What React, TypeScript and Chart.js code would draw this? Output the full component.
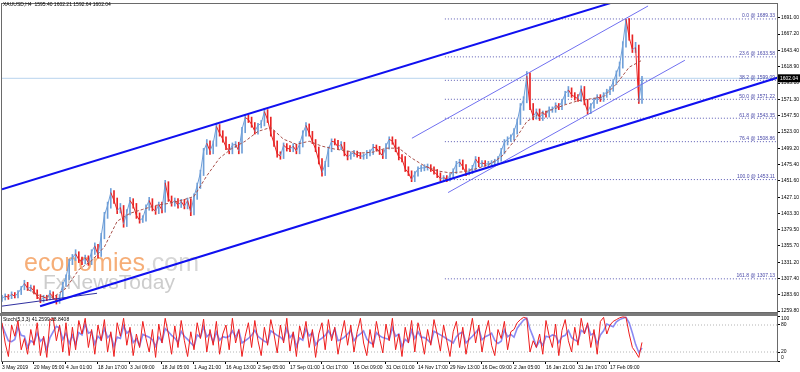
import React, { useEffect, useRef } from 'react';
import { Chart, registerables } from 'chart.js';

Chart.register(...registerables);

const FONT = '"Liberation Sans", Arial, sans-serif';

const TITLE = 'XAUUSD,H4  1595.40 1602.21 1592.64 1602.04';
const STOCH_TITLE = 'Stoch(5,3,3) 41.2599 28.8408';

// x: one sample per index, a date label every 10 samples
const DATE_LABELS = ['3 May 2019', '20 May 05:00', '4 Jun 01:00', '18 Jun 17:00', '3 Jul 09:00', '18 Jul 05:00', '1 Aug 21:00', '16 Aug 13:00', '2 Sep 05:00', '17 Sep 01:00', '1 Oct 17:00', '16 Oct 09:00', '31 Oct 01:00', '14 Nov 17:00', '29 Nov 13:00', '16 Dec 09:00', '2 Jan 05:00', '16 Jan 21:00', '31 Jan 17:00', '17 Feb 09:00'];
const SAMPLES_PER_LABEL = 10;
const X_MAX = 242.19;

const PRICE_TICKS = [1691.0, 1667.2, 1643.4, 1618.9, 1595.1, 1571.3, 1547.5, 1523.0, 1499.2, 1475.4, 1451.6, 1427.1, 1403.3, 1379.5, 1355.7, 1331.2, 1307.4, 1283.6, 1259.8];
const PRICE_MIN = 1258.35;
const PRICE_MAX = 1711.33;

const CLOSES = [
  1278.6, 1281.5, 1280.1, 1284.4, 1281.5, 1285.9, 1293.2, 1300.4, 1293.2, 1294.6,
  1288.8, 1281.5, 1275.7, 1280.1, 1278.6, 1285.9, 1280.1, 1274.3, 1280.1, 1299.0,
  1309.1, 1332.4, 1338.2, 1344.0, 1335.3, 1332.4, 1338.2, 1330.9, 1346.9, 1355.6,
  1342.5, 1370.1, 1400.6, 1415.1, 1434.0, 1422.4, 1407.9, 1412.2, 1387.5, 1405.0,
  1422.4, 1415.1, 1400.6, 1393.3, 1396.2, 1412.2, 1422.4, 1410.8, 1406.4, 1416.6,
  1407.9, 1448.5, 1425.3, 1418.0, 1422.4, 1415.1, 1420.9, 1413.7, 1422.4, 1405.0,
  1428.2, 1444.2, 1463.0, 1495.0, 1506.6, 1495.0, 1506.6, 1531.3, 1521.1, 1512.4,
  1500.8, 1495.0, 1503.7, 1505.1, 1495.0, 1526.9, 1544.3, 1541.4, 1534.2, 1524.0,
  1532.7, 1535.6, 1553.1, 1541.4, 1521.1, 1506.6, 1490.6, 1487.7, 1503.7, 1499.3,
  1497.9, 1502.2, 1495.0, 1505.1, 1521.1, 1532.7, 1521.1, 1509.5, 1497.9, 1480.5,
  1463.0, 1476.1, 1497.9, 1509.5, 1508.1, 1500.8, 1505.1, 1492.1, 1486.3, 1490.6,
  1492.1, 1489.2, 1487.7, 1487.7, 1492.1, 1493.5, 1500.8, 1499.3, 1493.5, 1487.7,
  1502.2, 1512.4, 1509.5, 1497.9, 1486.3, 1483.4, 1468.8, 1463.0, 1453.1, 1461.6,
  1468.8, 1470.3, 1470.3, 1471.8, 1468.8, 1464.5, 1460.1, 1454.3, 1455.8, 1454.3,
  1458.7, 1465.9, 1476.1, 1479.0, 1471.8, 1463.0, 1465.9, 1470.3, 1483.4, 1476.1,
  1477.6, 1476.1, 1476.1, 1477.6, 1479.0, 1483.4, 1495.0, 1508.1, 1512.4, 1515.3,
  1524.0, 1538.5, 1560.3, 1570.5, 1605.3, 1560.3, 1545.8, 1553.1, 1544.3, 1550.2,
  1548.7, 1556.0, 1556.0, 1561.8, 1560.3, 1567.6, 1579.2, 1585.0, 1577.7, 1574.8,
  1571.9, 1586.5, 1567.6, 1553.1, 1561.8, 1569.0, 1574.8, 1571.9, 1577.7, 1582.1,
  1586.5, 1596.6, 1609.7, 1621.3, 1651.8, 1689.3, 1662.0, 1644.5, 1647.4, 1567.6,
  1602.04,
];
const HIGHS = [
  1283, 1285, 1284, 1288, 1287, 1290, 1296, 1305, 1302, 1298,
  1297, 1291, 1284, 1283, 1283, 1290, 1288, 1283, 1284, 1302,
  1313, 1336, 1343, 1350, 1347, 1339, 1342, 1341, 1350, 1360,
  1358, 1374, 1405, 1420, 1440, 1437, 1426, 1418, 1415, 1409,
  1427, 1425, 1418, 1404, 1400, 1416, 1427, 1425, 1414, 1420,
  1420, 1452, 1450, 1429, 1426, 1425, 1424, 1424, 1426, 1425,
  1432, 1448, 1467, 1499, 1512, 1510, 1510, 1536, 1534, 1525,
  1516, 1505, 1507, 1509, 1508, 1530, 1549, 1548, 1545, 1537,
  1536, 1540, 1558, 1556, 1545, 1525, 1510, 1494, 1507, 1506,
  1503, 1506, 1505, 1509, 1525, 1537, 1535, 1524, 1512, 1501,
  1484, 1480, 1501, 1513, 1513, 1511, 1509, 1508, 1495, 1494,
  1496, 1495, 1493, 1491, 1496, 1497, 1505, 1504, 1502, 1497,
  1506, 1516, 1516, 1512, 1501, 1490, 1487, 1472, 1466, 1465,
  1472, 1474, 1475, 1476, 1475, 1472, 1468, 1463, 1459, 1459,
  1462, 1469, 1480, 1483, 1482, 1475, 1469, 1474, 1487, 1486,
  1481, 1481, 1480, 1481, 1483, 1487, 1499, 1512, 1516, 1519,
  1528, 1542, 1565, 1575, 1612, 1610, 1565, 1557, 1557, 1554,
  1554, 1560, 1560, 1566, 1565, 1571, 1583, 1590, 1588, 1581,
  1578, 1591, 1590, 1571, 1565, 1573, 1578, 1578, 1581, 1586,
  1590, 1600, 1613, 1626, 1656, 1689.3, 1690, 1666, 1655, 1651,
  1605,
];
const LOWS = [
  1274, 1276, 1277, 1278, 1279, 1279, 1284, 1291, 1290, 1289,
  1285, 1278, 1272, 1273, 1275, 1276, 1277, 1270, 1271, 1277,
  1296, 1306, 1328, 1334, 1331, 1328, 1329, 1327, 1328, 1343,
  1338, 1340, 1366, 1396, 1411, 1418, 1403, 1404, 1383, 1384,
  1401, 1411, 1396, 1389, 1390, 1392, 1408, 1407, 1402, 1403,
  1404, 1405, 1421, 1414, 1414, 1411, 1412, 1410, 1410, 1400,
  1401, 1424, 1440, 1459, 1490, 1490, 1491, 1502, 1517, 1508,
  1497, 1491, 1491, 1500, 1491, 1492, 1522, 1537, 1530, 1520,
  1520, 1529, 1532, 1537, 1517, 1502, 1486, 1483, 1484, 1495,
  1494, 1494, 1491, 1491, 1501, 1517, 1517, 1506, 1494, 1476,
  1458, 1459, 1472, 1494, 1504, 1497, 1497, 1488, 1482, 1483,
  1487, 1486, 1484, 1483, 1484, 1488, 1490, 1495, 1490, 1484,
  1484, 1498, 1505, 1494, 1482, 1479, 1465, 1459, 1450, 1450,
  1458, 1465, 1466, 1467, 1465, 1461, 1456, 1451, 1451, 1450,
  1451, 1455, 1462, 1472, 1468, 1459, 1460, 1462, 1467, 1472,
  1472, 1473, 1472, 1472, 1474, 1475, 1480, 1491, 1504, 1509,
  1511, 1520, 1534, 1555, 1566, 1556, 1541, 1542, 1540, 1540,
  1545, 1545, 1552, 1552, 1556, 1556, 1564, 1575, 1574, 1570,
  1568, 1568, 1563, 1549, 1550, 1558, 1565, 1568, 1568, 1574,
  1578, 1583, 1593, 1605, 1617, 1648, 1658, 1640, 1640, 1565,
  1565,
];

const MA_START = 8;
const MA_STEP = 4;
const MA_VALUES = [
  1291.7, 1281.5, 1280.1, 1293.2, 1320.7, 1333.8, 1354.1, 1391.9, 1403.5, 1409.3,
  1415.1, 1418.0, 1422.4, 1428.2, 1458.7, 1484.8, 1499.3, 1509.5, 1524.0, 1529.8,
  1512.4, 1505.1, 1509.5, 1502.2, 1497.9, 1495.0, 1492.1, 1493.5, 1499.3, 1499.3,
  1484.8, 1473.2, 1465.9, 1463.0, 1464.5, 1468.8, 1474.7, 1486.3, 1509.5, 1538.5,
  1550.2, 1556.0, 1563.2, 1569.0, 1571.9, 1574.8, 1593.7, 1618.4, 1628.6,
];

const FIB_LEVELS = [0.0, 23.6, 38.2, 50.0, 61.8, 76.4, 100.0, 161.8];
const FIB_PRICES = [1689.33, 1633.58, 1599.09, 1571.22, 1543.35, 1508.86, 1453.11, 1307.13];
const FIB_START = 138.4;
const BID = 1602.04;

const UPPER_CHANNEL_X = [0, 200];
const UPPER_CHANNEL_Y = [1438.8, 1726.9];
const LOWER_CHANNEL_X = [11.9, 245];
const LOWER_CHANNEL_Y = [1266.7, 1606.8];
const BASE_LINE_X = [0, 29.7];
const BASE_LINE_Y = [1267.0, 1285.9];
const THIN_UPPER_X = [128.1, 201.9];
const THIN_UPPER_Y = [1513.9, 1708.4];
const THIN_LOWER_X = [139.4, 213.4];
const THIN_LOWER_Y = [1434.0, 1628.6];

const STOCH_MAIN = [
  85, 40, 10, 80, 55, 90, 25, 50, 15, 70,
  35, 85, 12, 55, 8, 92, 95, 45, 80, 20,
  85, 12, 75, 25, 90, 60, 95, 30, 70, 15,
  80, 45, 92, 20, 65, 10, 85, 55, 95, 35,
  75, 12, 60, 30, 88, 50, 20, 70, 8, 82,
  40, 95, 60, 15, 78, 30, 90, 45, 10, 65,
  25, 85, 50, 93, 20, 70, 35, 88, 15, 60,
  80, 25, 95, 40, 70, 10, 55, 85, 30, 90,
  45, 12, 75, 35, 92, 60, 18, 80, 40, 95,
  22, 65, 10, 78, 50, 88, 30, 70, 8, 60,
  85, 25, 92, 45, 75, 15, 55, 90, 35, 80,
  20, 65, 95, 40, 12, 70, 30, 88, 50, 18,
  82, 45, 95, 25, 60, 10, 75, 40, 90, 20,
  85, 55, 15, 70, 35, 92, 60, 22, 80, 45,
  10, 65, 88, 30, 75, 15, 55, 95, 40, 80,
  20, 62, 90, 35, 12, 70, 50, 88, 25, 65,
  70, 85, 92, 97, 95, 20, 45, 30, 60, 15,
  90, 55, 30, 82, 12, 68, 92, 45, 20, 75,
  35, 95, 60, 85, 30, 70, 15, 88, 97, 60,
  80, 88, 92, 96, 98, 97, 60, 30, 20, 8,
  41.26,
];
const STOCH_SIGNAL = [
  80, 62, 45, 43, 48, 75, 57, 55, 30, 45,
  40, 63, 44, 51, 25, 52, 65, 77, 73, 48,
  62, 39, 57, 37, 63, 58, 82, 62, 65, 38,
  55, 47, 72, 52, 59, 32, 53, 50, 78, 62,
  68, 41, 49, 34, 59, 56, 53, 47, 33, 53,
  43, 72, 65, 57, 51, 41, 66, 55, 48, 40,
  33, 58, 53, 76, 54, 61, 42, 64, 46, 54,
  52, 55, 67, 53, 68, 40, 45, 50, 57, 68,
  55, 49, 44, 41, 67, 62, 57, 53, 46, 72,
  52, 61, 32, 51, 46, 72, 56, 63, 36, 46,
  51, 57, 67, 54, 71, 45, 48, 53, 60, 68,
  45, 55, 60, 67, 49, 41, 37, 63, 56, 52,
  50, 48, 74, 55, 60, 32, 48, 42, 68, 50,
  65, 53, 52, 47, 40, 66, 62, 58, 54, 49,
  45, 40, 54, 61, 64, 40, 48, 55, 63, 72,
  47, 54, 57, 62, 46, 39, 44, 69, 54, 59,
  53, 73, 82, 91, 95, 71, 53, 32, 45, 35,
  55, 53, 58, 56, 41, 54, 57, 68, 52, 47,
  43, 68, 63, 80, 58, 62, 38, 58, 67, 82,
  79, 76, 87, 92, 95, 97, 85, 62, 37, 19,
  28.84,
];
const STOCH_LEVELS = [80, 20];
const STOCH_TICKS = [100, 80, 20, 0];

const UP = '#6f9fd8';
const DOWN = '#e82424';

const isUp = (i: number) => i === 0 || CLOSES[i] >= CLOSES[i - 1];

const seg = (xs: number[], ys: number[], color: string, width: number, dash: number[] = []) => ({
  type: 'line',
  data: xs.map((x, i) => ({ x, y: ys[i] })),
  borderColor: color,
  borderWidth: width,
  borderDash: dash,
  pointRadius: 0,
  fill: false,
  tension: 0,
});

const frame = (chart: any) => {
  const { ctx, chartArea: a } = chart;
  ctx.save();
  ctx.strokeStyle = '#6a6a6a';
  ctx.lineWidth = 1;
  ctx.strokeRect(a.left - 0.5, a.top - 0.5, a.right - a.left + 1, a.bottom - a.top + 1);
  ctx.restore();
};

const mainPlugin = {
  id: 'mainDecor',
  beforeDatasetsDraw(chart: any) {
    const { ctx } = chart;
    ctx.save();
    ctx.textBaseline = 'alphabetic';
    ctx.font = `25px ${FONT}`;
    ctx.fillStyle = '#f6ae78';
    ctx.fillText('economies', 24, 271);
    const w = ctx.measureText('economies').width;
    ctx.fillStyle = '#d6d6d6';
    ctx.fillText('.com', 24 + w, 271);
    ctx.font = `21px ${FONT}`;
    ctx.fillStyle = '#cdcdcd';
    ctx.fillText('FxNewsToday', 43, 289);
    ctx.restore();
  },
  afterDraw(chart: any) {
    const { ctx, chartArea: a } = chart;
    const y = chart.scales.y;
    frame(chart);
    ctx.save();
    ctx.font = `5px ${FONT}`;
    ctx.fillStyle = '#4848a8';
    ctx.textAlign = 'right';
    ctx.textBaseline = 'bottom';
    FIB_LEVELS.forEach((lv, i) => {
      const py = y.getPixelForValue(FIB_PRICES[i]);
      ctx.fillText(`${lv.toFixed(1)} @ ${FIB_PRICES[i].toFixed(2)}`, a.right - 2, py - 0.5);
    });
    const by = y.getPixelForValue(BID);
    ctx.fillStyle = '#000';
    ctx.fillRect(a.right + 1, by - 4, 22, 8);
    ctx.fillStyle = '#fff';
    ctx.textAlign = 'left';
    ctx.textBaseline = 'middle';
    ctx.fillText(BID.toFixed(2), a.right + 3, by);
    ctx.fillStyle = '#000';
    ctx.fillText(TITLE, 3, 5);
    ctx.restore();
  },
};

const stochPlugin = {
  id: 'stochDecor',
  afterDraw(chart: any) {
    const { ctx, chartArea: a } = chart;
    const y = chart.scales.y;
    frame(chart);
    ctx.save();
    ctx.font = `5px ${FONT}`;
    ctx.fillStyle = '#000';
    ctx.textAlign = 'left';
    ctx.textBaseline = 'middle';
    ctx.fillText(STOCH_TITLE, 3, a.top + 4);
    STOCH_TICKS.forEach((v) => {
      const py = Math.min(Math.max(y.getPixelForValue(v), a.top + 3), a.bottom - 3);
      ctx.fillText(String(v), a.right + 4, py);
    });
    ctx.restore();
  },
};

export default function App() {
  const mainRef = useRef<HTMLCanvasElement>(null);
  const stochRef = useRef<HTMLCanvasElement>(null);

  useEffect(() => {
    document.body.style.margin = '0';
    const tickFont = { size: 5, family: FONT };

    const main = new Chart(mainRef.current as HTMLCanvasElement, {
      type: 'line',
      data: {
        datasets: [
          seg(UPPER_CHANNEL_X, UPPER_CHANNEL_Y, '#1010f0', 2),
          seg(LOWER_CHANNEL_X, LOWER_CHANNEL_Y, '#1010f0', 2),
          seg(BASE_LINE_X, BASE_LINE_Y, '#3030a0', 1),
          seg(THIN_UPPER_X, THIN_UPPER_Y, '#7070f0', 1),
          seg(THIN_LOWER_X, THIN_LOWER_Y, '#7070f0', 1),
          seg(MA_VALUES.map((_, k) => MA_START + k * MA_STEP), MA_VALUES, '#a8504a', 1, [3, 2]),
          {
            type: 'line',
            data: CLOSES.map((v, i) => ({ x: i, y: v })),
            borderWidth: 1,
            pointRadius: 0,
            tension: 0,
            borderColor: UP,
            segment: {
              borderColor: (c: any) => (c.p1.parsed.y >= c.p0.parsed.y ? UP : DOWN),
            },
          },
          {
            type: 'bar',
            data: CLOSES.map((_, i) => ({ x: i, y: [LOWS[i], HIGHS[i]] })),
            backgroundColor: CLOSES.map((_, i) => (isUp(i) ? UP : DOWN)),
            barThickness: 1,
            grouped: false,
          },
          ...FIB_PRICES.map((p) => seg([FIB_START, X_MAX], [p, p], '#5a5ab4', 1, [1, 2])),
          seg([0, X_MAX], [BID, BID], '#b8d4ee', 1),
        ] as any,
      },
      options: {
        animation: false,
        responsive: false,
        maintainAspectRatio: false,
        layout: { padding: { left: 2, top: 1, bottom: 3, right: 0 } },
        plugins: { legend: { display: false }, tooltip: { enabled: false } },
        scales: {
          x: { type: 'linear', min: 0, max: X_MAX, display: false, offset: false },
          y: {
            position: 'right',
            min: PRICE_MIN,
            max: PRICE_MAX,
            afterFit: (s: any) => { s.width = 23; },
            afterBuildTicks: (s: any) => { s.ticks = PRICE_TICKS.map((v) => ({ value: v })); },
            ticks: {
              autoSkip: false,
              font: tickFont,
              color: '#000',
              padding: 1,
              callback: (v: any) => Number(v).toFixed(2),
            },
            grid: { drawOnChartArea: false, drawTicks: true, tickLength: 3, color: '#000' },
            border: { display: true, color: '#000' },
          },
        },
      } as any,
      plugins: [mainPlugin],
    });

    const stoch = new Chart(stochRef.current as HTMLCanvasElement, {
      type: 'line',
      data: {
        datasets: [
          seg(STOCH_MAIN.map((_, i) => i), STOCH_MAIN, '#ee1c1c', 1),
          seg(STOCH_SIGNAL.map((_, i) => i), STOCH_SIGNAL, '#8a8af2', 1.6),
          ...STOCH_LEVELS.map((lv) => seg([0, X_MAX], [lv, lv], '#b4b4b4', 1, [1, 2])),
        ] as any,
      },
      options: {
        animation: false,
        responsive: false,
        maintainAspectRatio: false,
        layout: { padding: { left: 2, top: 4, bottom: 0, right: 0 } },
        plugins: { legend: { display: false }, tooltip: { enabled: false } },
        scales: {
          x: {
            type: 'linear',
            min: 0,
            max: X_MAX,
            position: 'bottom',
            afterBuildTicks: (s: any) => { s.ticks = DATE_LABELS.map((_, k) => ({ value: k * SAMPLES_PER_LABEL })); },
            afterFit: (s: any) => { s.height = 11; },
            ticks: {
              autoSkip: false,
              maxRotation: 0,
              minRotation: 0,
              align: 'start',
              font: tickFont,
              color: '#000',
              padding: 1,
              callback: (v: any) => DATE_LABELS[Math.round(Number(v) / SAMPLES_PER_LABEL)] ?? '',
            },
            grid: { drawOnChartArea: false, drawTicks: true, tickLength: 3, color: '#000' },
            border: { display: true, color: '#000' },
          },
          y: {
            position: 'right',
            min: 0,
            max: 100,
            afterFit: (s: any) => { s.width = 23; },
            afterBuildTicks: (s: any) => { s.ticks = STOCH_TICKS.map((v) => ({ value: v })); },
            ticks: { display: false },
            grid: { drawOnChartArea: false, drawTicks: true, tickLength: 3, color: '#000' },
            border: { display: true, color: '#000' },
          },
        },
      } as any,
      plugins: [stochPlugin],
    });

    return () => {
      main.destroy();
      stoch.destroy();
    };
  }, []);

  return (
    <div style={{ position: 'relative', width: 800, height: 372, background: '#fff', overflow: 'hidden' }}>
      <canvas ref={mainRef} width={800} height={316} style={{ position: 'absolute', left: 0, top: 0 }} />
      <canvas ref={stochRef} width={800} height={60} style={{ position: 'absolute', left: 0, top: 312 }} />
      <div style={{ position: 'absolute', left: 0, top: 313, width: 778, height: 3, background: '#7a7a7a' }} />
    </div>
  );
}
